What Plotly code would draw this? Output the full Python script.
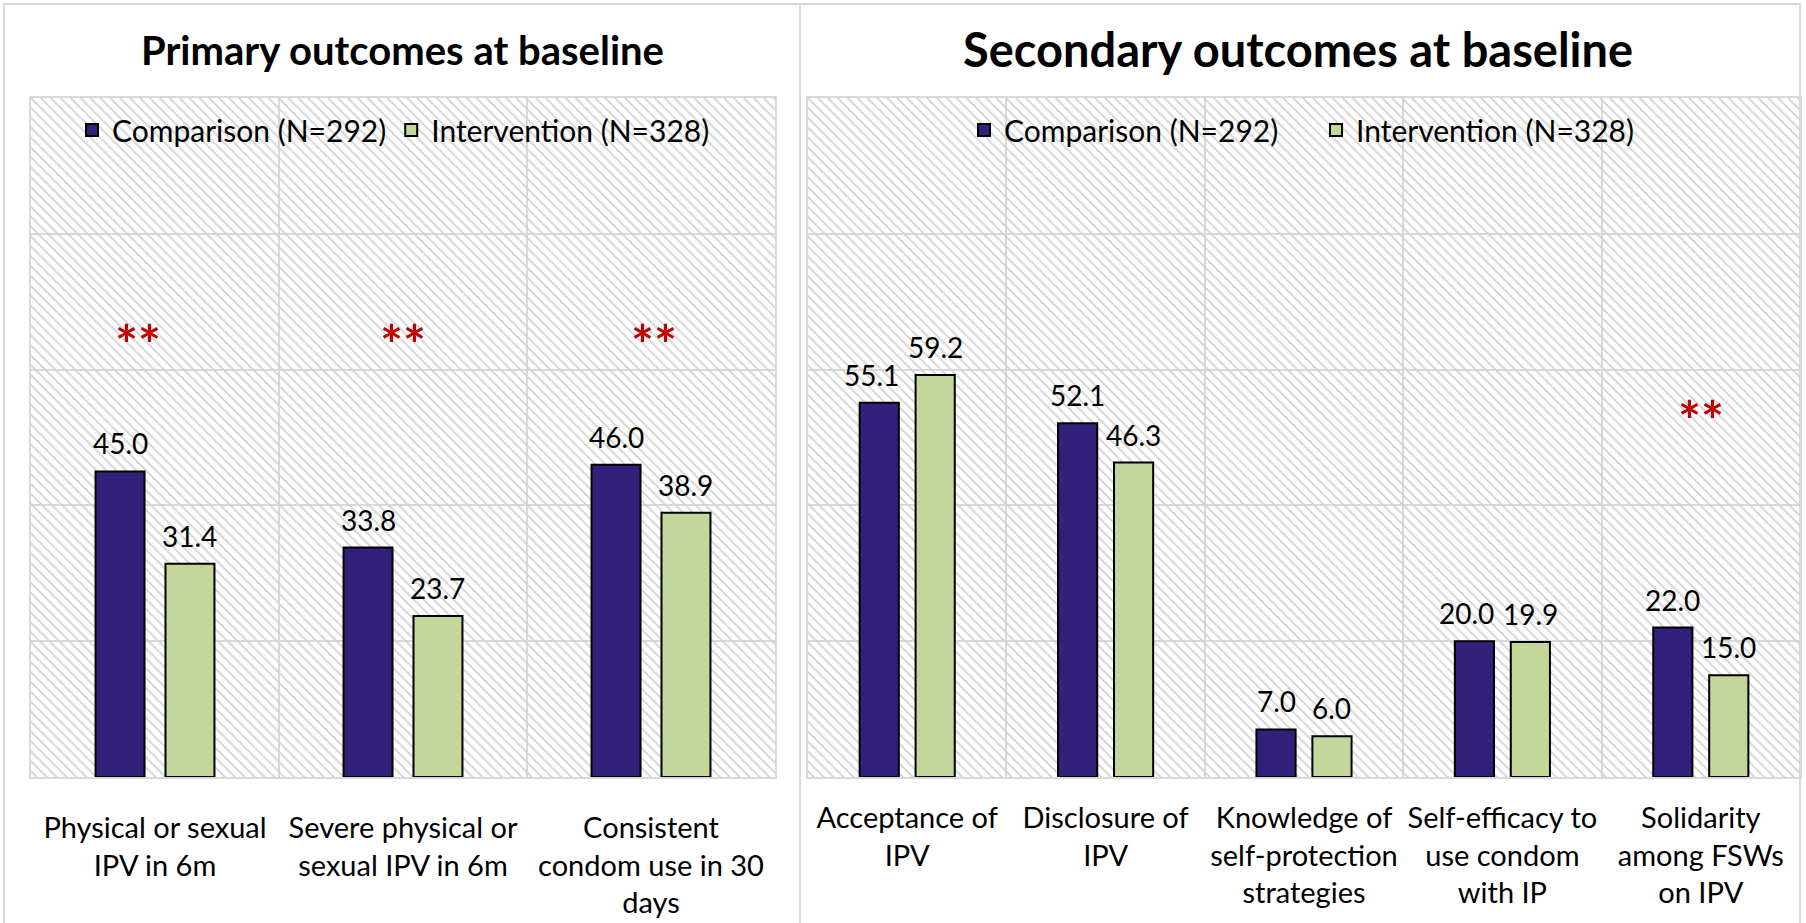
import plotly.graph_objects as go

# ---- data -------------------------------------------------------------
primary_categories = [
    "Physical or sexual<br>IPV in 6m",
    "Severe physical or<br>sexual IPV in 6m",
    "Consistent<br>condom use in 30<br>days",
]
primary_comparison = [45.0, 33.8, 46.0]
primary_intervention = [31.4, 23.7, 38.9]
primary_significant = [True, True, True]

secondary_categories = [
    "Acceptance of<br>IPV",
    "Disclosure of<br>IPV",
    "Knowledge of<br>self-protection<br>strategies",
    "Self-efficacy to<br>use condom<br>with IP",
    "Solidarity<br>among FSWs<br>on IPV",
]
secondary_comparison = [55.1, 52.1, 7.0, 20.0, 22.0]
secondary_intervention = [59.2, 46.3, 6.0, 19.9, 15.0]
secondary_significant = [False, False, False, False, True]

comparison_name = "Comparison (N=292)"
intervention_name = "Intervention (N=328)"
primary_title = "Primary outcomes at baseline"
secondary_title = "Secondary outcomes at baseline"
y_max = 100
y_step = 20

# ---- styling ----------------------------------------------------------
W, H = 1806, 923
FONT = "Lato, 'Liberation Sans', sans-serif"
COMP_COLOR = "#33207A"
INT_COLOR = "#C4D79B"
GRID = "#d9d9d9"
HATCH = "#d2d2d2"
SIG_COLOR = "#C00000"
LABEL_SIZE = 28
BARGAP = 0.436
BARGROUPGAP = 0.30

# plot-area edges in pixels
LEFT_PX = (31, 775)
RIGHT_PX = (808, 1800)
TOP_PX, BOTTOM_PX = 98, 777


def px_x(v):
    return v / W


def px_y(v):
    return 1 - v / H


left_dom = [px_x(LEFT_PX[0]), px_x(LEFT_PX[1])]
right_dom = [px_x(RIGHT_PX[0]), px_x(RIGHT_PX[1])]
y_dom = [px_y(BOTTOM_PX), px_y(TOP_PX)]

fig = go.Figure()


def hatch_trace(xa, ya):
    # one full-width bar on a hidden base axis, filled with a diagonal pattern
    return go.Bar(
        x=[0.5], y=[1], width=[1], xaxis=xa, yaxis=ya,
        marker=dict(color=HATCH, line=dict(width=0),
                    pattern=dict(shape="\\", size=7, solidity=0.26,
                                 fillmode="replace", fgcolor=HATCH,
                                 bgcolor="rgba(0,0,0,0)")),
        hoverinfo="skip", showlegend=False,
    )


fig.add_trace(hatch_trace("x3", "y3"))
fig.add_trace(hatch_trace("x4", "y4"))


def data_bar(cats, vals, name, color, xa, ya, legend):
    return go.Bar(
        x=cats, y=vals, name=name, xaxis=xa, yaxis=ya, legend=legend,
        marker=dict(color=color, line=dict(color="black", width=2)),
        hovertemplate="%{y:.1f}<extra>" + name + "</extra>",
    )


fig.add_trace(data_bar(primary_categories, primary_comparison, comparison_name,
                       COMP_COLOR, "x", "y", "legend"))
fig.add_trace(data_bar(primary_categories, primary_intervention, intervention_name,
                       INT_COLOR, "x", "y", "legend"))
fig.add_trace(data_bar(secondary_categories, secondary_comparison, comparison_name,
                       COMP_COLOR, "x2", "y2", "legend2"))
fig.add_trace(data_bar(secondary_categories, secondary_intervention, intervention_name,
                       INT_COLOR, "x2", "y2", "legend2"))

base_axis = dict(range=[0, 1], visible=False, fixedrange=True)


def cat_axis(dom, overlay, anchor, standoff):
    return dict(
        domain=dom, overlaying=overlay, anchor=anchor, type="category",
        tickson="boundaries", ticks="", tickangle=0,
        showgrid=True, gridcolor=GRID, gridwidth=2,
        showline=True, mirror=True, linecolor=GRID, linewidth=2,
        tickfont=dict(family=FONT, size=29, color="black"),
        ticklabelstandoff=standoff,
    )


def val_axis(overlay, anchor):
    return dict(
        domain=y_dom, overlaying=overlay, anchor=anchor,
        range=[0, y_max], dtick=y_step, showticklabels=False,
        showgrid=True, gridcolor=GRID, gridwidth=2, zeroline=False,
        showline=True, mirror=True, linecolor=GRID, linewidth=2, ticks="",
    )


legend_common = dict(
    orientation="h", yanchor="middle", xanchor="left",
    font=dict(family=FONT, size=30, color="black"),
    bgcolor="rgba(0,0,0,0)", borderwidth=0, traceorder="normal",
)

annotations = [
    dict(text=primary_title, x=px_x(402), y=px_y(50), xref="paper", yref="paper",
         showarrow=False, xanchor="center", yanchor="middle",
         font=dict(family=FONT, size=40, color="black", weight="bold")),
    dict(text=secondary_title, x=px_x(1298), y=px_y(49), xref="paper", yref="paper",
         showarrow=False, xanchor="center", yanchor="middle",
         font=dict(family=FONT, size=47, color="black", weight="bold")),
]


def value_labels(cats, comp, inter, xref, yref, px_span):
    # value labels centred over each bar of the grouped pair
    cat_px = (px_span[1] - px_span[0]) / len(cats)
    half_slot = (1 - BARGAP) / 2 / 2 * cat_px
    unit_px = (BOTTOM_PX - TOP_PX) / y_max
    out = []
    for cat, a, b in zip(cats, comp, inter):
        la, lb = f"{a:.1f}", f"{b:.1f}"
        wa = (0.58 * (len(la) - 1) + 0.25) * LABEL_SIZE
        wb = (0.58 * (len(lb) - 1) + 0.25) * LABEL_SIZE
        need = (wa + wb) / 2 + 8
        nudge = 0
        if abs(a - b) * unit_px < LABEL_SIZE and 2 * half_slot < need:
            nudge = 2 * half_slot - need
        for txt, val, shift in ((la, a, -half_slot + nudge), (lb, b, half_slot)):
            out.append(dict(
                text=txt, x=cat, y=val, xref=xref, yref=yref, showarrow=False,
                xanchor="center", yanchor="bottom", xshift=shift, yshift=9,
                font=dict(family=FONT, size=LABEL_SIZE, color="black")))
    return out


annotations += value_labels(primary_categories, primary_comparison,
                            primary_intervention, "x", "y", LEFT_PX)
annotations += value_labels(secondary_categories, secondary_comparison,
                            secondary_intervention, "x2", "y2", RIGHT_PX)

# significance markers above the flagged groups
sig_font = dict(family=FONT, size=54, color=SIG_COLOR, weight="bold")
for i, (cat, sig) in enumerate(zip(primary_categories, primary_significant)):
    if sig:
        annotations.append(dict(
            text="**", x=cat, y=63.9, xref="x", yref="y", showarrow=False,
            xshift=[-17, 0, 3][i], font=sig_font))
for cat, sig in zip(secondary_categories, secondary_significant):
    if sig:
        annotations.append(dict(
            text="**", x=cat, y=52.6, xref="x2", yref="y2", showarrow=False,
            font=sig_font))

panel_line = dict(color=GRID, width=2)
shapes = [
    dict(type="rect", xref="paper", yref="paper", x0=px_x(4), x1=px_x(800),
         y0=-0.05, y1=px_y(4), line=panel_line, fillcolor="rgba(0,0,0,0)", layer="below"),
    dict(type="rect", xref="paper", yref="paper", x0=px_x(800), x1=px_x(1800),
         y0=-0.05, y1=px_y(4), line=panel_line, fillcolor="rgba(0,0,0,0)", layer="below"),
]

fig.update_layout(
    width=W, height=H, margin=dict(l=0, r=0, t=0, b=0),
    paper_bgcolor="white", plot_bgcolor="white",
    font=dict(family=FONT, color="black"),
    barmode="group", bargap=BARGAP, bargroupgap=BARGROUPGAP,
    xaxis3=dict(domain=left_dom, anchor="y3", **base_axis),
    yaxis3=dict(domain=y_dom, anchor="x3", **base_axis),
    xaxis4=dict(domain=right_dom, anchor="y4", **base_axis),
    yaxis4=dict(domain=y_dom, anchor="x4", **base_axis),
    xaxis=cat_axis(left_dom, "x3", "y", 24),
    yaxis=val_axis("y3", "x"),
    xaxis2=cat_axis(right_dom, "x4", "y2", 14),
    yaxis2=val_axis("y4", "x2"),
    legend=dict(x=px_x(72), y=px_y(130), **legend_common),
    legend2=dict(x=px_x(964), y=px_y(130), entrywidthmode="pixels",
                 entrywidth=307, **legend_common),
    annotations=annotations,
    shapes=shapes,
    showlegend=True,
)

fig.write_html("out.html")
